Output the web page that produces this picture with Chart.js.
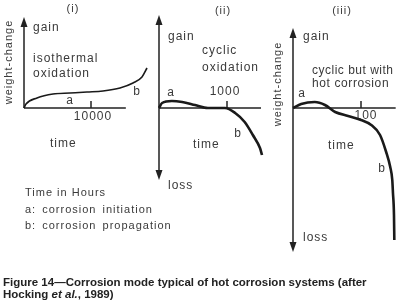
<!DOCTYPE html>
<html>
<head>
<meta charset="utf-8">
<script src="https://cdn.jsdelivr.net/npm/chart.js@4.4.1/dist/chart.umd.min.js"></script>
<style>
  body { margin: 0; background: #fff; }
  #wrap { position: relative; width: 404px; height: 308px; overflow: hidden; }
  canvas { position: absolute; left: 0; top: 0; }
  .t { position: absolute; font-family: "Liberation Sans", Arial, sans-serif; font-size: 12px; line-height: 12px;
       color: #3a3a3a; letter-spacing: 1px; white-space: nowrap; transform: translateY(-50%); }
  .c { transform: translate(-50%, -50%); }
  .sm { font-size: 11px; line-height: 11px; }
  .rot { transform: translate(-50%, -50%) rotate(-90deg); font-size: 11px; line-height: 11px; }
  .cap { position: absolute; left: 3px; font-family: "Liberation Sans", Arial, sans-serif; font-weight: bold;
         font-size: 11.5px; line-height: 11px; color: #222; white-space: nowrap; transform: translateY(-50%); }
</style>
</head>
<body>
<div id="wrap">
  <canvas id="c1" width="404" height="308"></canvas>
  <canvas id="c2" width="404" height="308"></canvas>
  <canvas id="c3" width="404" height="308"></canvas>

  <!-- panel (i) -->
  <div class="t c sm" style="left:73px;top:8px">(i)</div>
  <div class="t" style="left:33px;top:27px">gain</div>
  <div class="t" style="left:33px;top:58px">isothermal</div>
  <div class="t" style="left:33px;top:73px">oxidation</div>
  <div class="t c" style="left:70px;top:100px">a</div>
  <div class="t c" style="left:137px;top:91px">b</div>
  <div class="t" style="left:50px;top:143px">time</div>
  <div class="t rot" style="left:8px;top:62px">weight-change</div>

  <!-- panel (ii) -->
  <div class="t c sm" style="left:223px;top:10px">(ii)</div>
  <div class="t" style="left:168px;top:36px">gain</div>
  <div class="t" style="left:202px;top:50px">cyclic</div>
  <div class="t" style="left:202px;top:67px">oxidation</div>
  <div class="t c" style="left:171px;top:92px">a</div>
  <div class="t c" style="left:238px;top:133px">b</div>
  <div class="t" style="left:193px;top:144px">time</div>
  <div class="t" style="left:168px;top:185px">loss</div>

  <!-- panel (iii) -->
  <div class="t c sm" style="left:342px;top:10px">(iii)</div>
  <div class="t" style="left:303px;top:36px">gain</div>
  <div class="t" style="left:312px;top:70px;letter-spacing:0.5px">cyclic but with</div>
  <div class="t" style="left:312px;top:83px;letter-spacing:0.6px">hot corrosion</div>
  <div class="t c" style="left:302px;top:93px">a</div>
  <div class="t c" style="left:382px;top:168px">b</div>
  <div class="t" style="left:328px;top:145px">time</div>
  <div class="t" style="left:303px;top:237px">loss</div>
  <div class="t rot" style="left:277px;top:84px">weight-change</div>

  <!-- notes -->
  <div class="t sm" style="left:25px;top:192px">Time in Hours</div>
  <div class="t sm" style="left:25px;top:209px;word-spacing:2px">a: corrosion initiation</div>
  <div class="t sm" style="left:25px;top:225px;word-spacing:2px">b: corrosion propagation</div>

  <div class="cap" style="top:282px">Figure 14—Corrosion mode typical of hot corrosion systems (after</div>
  <div class="cap" style="top:294px">Hocking <i>et al.</i>, 1989)</div>
</div>

<script>
// (i) isothermal oxidation: time in hours, weight change (arbitrary units)
const isoHours  = [0, 300, 1940, 4330, 6870, 9400, 11790, 14330, 16270, 17610, 18360];
const isoWeight = [0, 4, 10, 14, 15, 16, 17, 20, 25, 31, 40];
const isoTicks  = [10000];

// (ii) cyclic oxidation
const cycHours  = [0, 45, 190, 340, 530, 720, 970, 1120, 1260, 1380, 1485, 1515];
const cycWeight = [0, 5, 7, 6, 3, 0, 0, -5, -14, -27, -40, -47];
const cycTicks  = [1000];

// (iii) cyclic with hot corrosion
const hotHours  = [0, 12, 32, 47, 62, 81, 100, 115, 128, 137, 143, 146, 147, 148.5, 149];
const hotWeight = [0, 4, 6, 3, -4, -8, -12, -17, -27, -44, -59, -72, -85, -107, -132];
const hotTicks  = [100];

const W = 404, H = 308;

// panel geometry: origin pixel, px per unit, axis extents (data units)
const panels = [
  { id: 'c1', xs: isoHours, ys: isoWeight, ticks: isoTicks, ox: 24, oy: 108, kx: 67 / 10000,
    xEnd: 15200, yTop: 91, yBottom: null, lw: 1.6, lblDx: 2, lblDy: 9 },
  { id: 'c2', xs: cycHours, ys: cycWeight, ticks: cycTicks, ox: 159, oy: 108, kx: 68 / 1000,
    xEnd: 1500, yTop: 93, yBottom: -72, lw: 2.6, lblDx: -2, lblDy: -16 },
  { id: 'c3', xs: hotHours, ys: hotWeight, ticks: hotTicks, ox: 293, oy: 108, kx: 68 / 100,
    xEnd: 151, yTop: 80, yBottom: -144, lw: 2.6, lblDx: 5, lblDy: 8 }
];

function arrow(ctx, x, y, dir) {
  // dir: 1 = up, -1 = down
  ctx.beginPath();
  ctx.moveTo(x, y);
  ctx.lineTo(x - 3.5, y + dir * 10);
  ctx.lineTo(x + 3.5, y + dir * 10);
  ctx.closePath();
  ctx.fill();
}

const axesPlugin = {
  id: 'schemAxes',
  beforeDatasetsDraw(chart, args, opts) {
    const p = opts.panel;
    const ctx = chart.ctx;
    const xs = chart.scales.x, ys = chart.scales.y;
    const x0 = xs.getPixelForValue(0), y0 = ys.getPixelForValue(0);
    const top = ys.getPixelForValue(p.yTop);
    const bottom = p.yBottom === null ? y0 : ys.getPixelForValue(p.yBottom);
    ctx.save();
    ctx.strokeStyle = '#222';
    ctx.fillStyle = '#222';
    ctx.lineWidth = 1.5;
    ctx.beginPath();
    ctx.moveTo(x0, top + 4);
    ctx.lineTo(x0, p.yBottom === null ? y0 : bottom - 4);
    ctx.moveTo(x0, y0);
    ctx.lineTo(xs.getPixelForValue(p.xEnd), y0);
    ctx.stroke();
    arrow(ctx, x0, top, 1);
    if (p.yBottom !== null) arrow(ctx, x0, bottom, -1);
    ctx.font = '12px "Liberation Sans", Arial, sans-serif';
    ctx.textAlign = 'center';
    ctx.textBaseline = 'middle';
    ctx.fillStyle = '#3a3a3a';
    p.ticks.forEach(t => {
      const tx = xs.getPixelForValue(t);
      ctx.beginPath();
      ctx.moveTo(tx, y0);
      ctx.lineTo(tx, y0 - 7);
      ctx.stroke();
      ctx.letterSpacing = '1px';
      ctx.fillText(String(t), tx + p.lblDx, y0 + p.lblDy);
    });
    ctx.restore();
  }
};

panels.forEach(p => {
  new Chart(document.getElementById(p.id), {
    type: 'line',
    data: {
      datasets: [{
        data: p.xs.map((x, i) => ({ x: x, y: p.ys[i] })),
        borderColor: '#1a1a1a',
        borderWidth: p.lw,
        pointRadius: 0,
        cubicInterpolationMode: 'monotone',
        fill: false,
        clip: false
      }]
    },
    options: {
      responsive: false,
      animation: false,
      devicePixelRatio: 1,
      layout: { padding: 0 },
      events: [],
      scales: {
        x: { type: 'linear', display: false, min: -p.ox / p.kx, max: (W - p.ox) / p.kx },
        y: { type: 'linear', display: false, min: -(H - p.oy), max: p.oy }
      },
      plugins: {
        legend: { display: false },
        tooltip: { enabled: false },
        schemAxes: { panel: p }
      }
    },
    plugins: [axesPlugin]
  });
});
</script>
</body>
</html>
